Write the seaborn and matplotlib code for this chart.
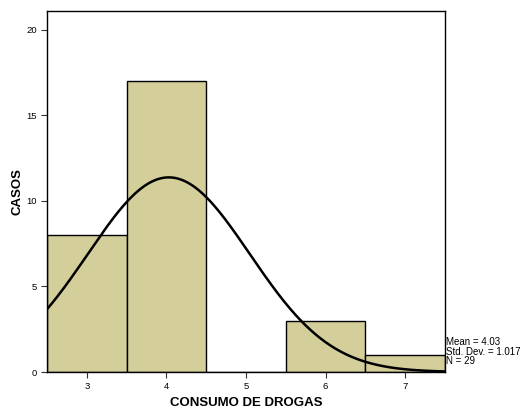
import numpy as np
import pandas as pd
import matplotlib
matplotlib.use("Agg")
import matplotlib.pyplot as plt
import seaborn as sns

categories = [3, 4, 5, 6, 7]
counts = [8, 17, 0, 3, 1]
mean_val = 4.03
std_val = 1.017
n_val = 29
yticks = [0, 5, 10, 15, 20]

sns.set_style("white")
plt.rcParams['font.family'] = ['Liberation Sans', 'DejaVu Sans']
plt.rcParams['text.color'] = 'black'
plt.rcParams['axes.labelcolor'] = 'black'
plt.rcParams['xtick.color'] = 'black'
plt.rcParams['ytick.color'] = 'black'

df = pd.DataFrame({"value": np.repeat(categories, counts)})

fig = plt.figure(figsize=(5.24, 4.08), dpi=100)
ax = fig.add_axes([47/524, 36/408, (445-47)/524, (372-11)/408])

sns.histplot(data=df, x="value", binwidth=1, binrange=(2.5, 7.5), ax=ax,
             color="#D3CE9A", alpha=1.0, edgecolor="black", linewidth=1.0)

xs = np.linspace(2.5, 7.5, 400)
ys = n_val * 1.0 * np.exp(-0.5 * ((xs - mean_val) / std_val) ** 2) / (std_val * np.sqrt(2 * np.pi))
sns.lineplot(x=xs, y=ys, ax=ax, color="black", linewidth=1.8)

ax.set_xlim(2.5, 7.5)
ax.set_ylim(0, 21.1)
ax.set_xticks(categories)
ax.set_yticks(yticks)
ax.tick_params(axis='both', direction='out', length=4, width=0.8, labelsize=6.8,
               bottom=True, left=True, color='#333333', pad=3)
for s in ax.spines.values():
    s.set_color('black')
    s.set_linewidth(1.0)
ax.set_xlabel("CONSUMO DE DROGAS", fontsize=9.5, fontweight='bold', labelpad=4.5)
ax.set_ylabel("CASOS", fontsize=9.5, fontweight='bold', labelpad=2)

fig.text(446/524, 1 - 337/408, f"Mean = {mean_val:.2f}\nStd. Dev. = {std_val:.3f}\nN = {n_val}",
         fontsize=7, va='top', ha='left', linespacing=0.95)

fig.savefig("out.png", dpi=100)
